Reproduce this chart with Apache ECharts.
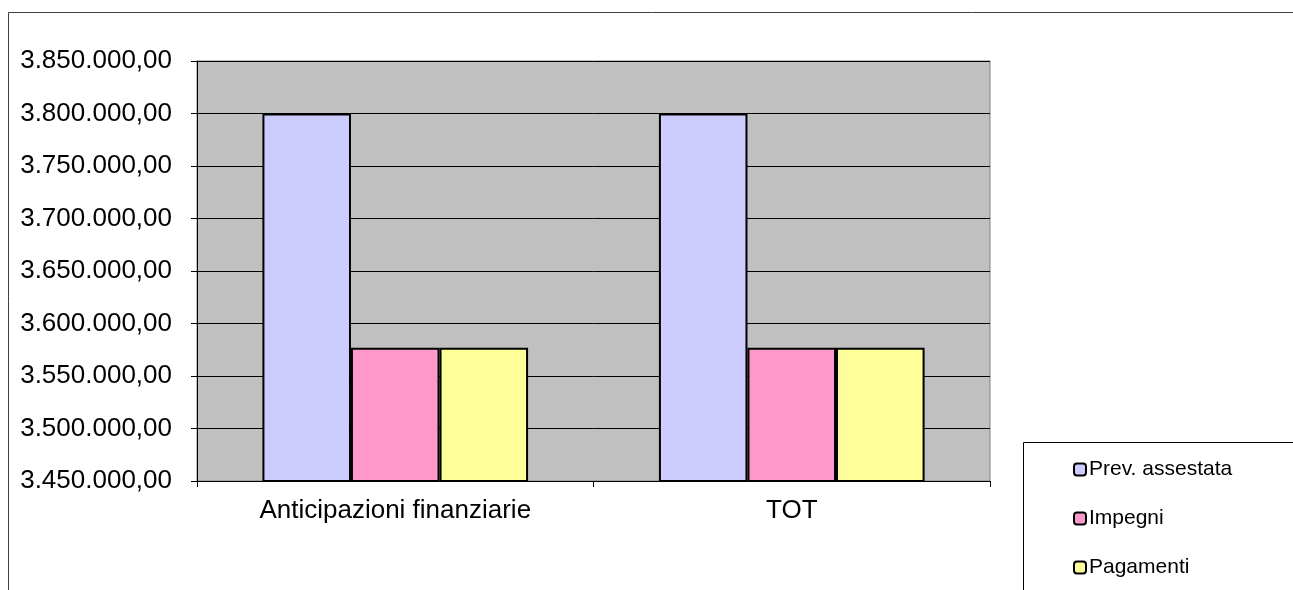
<!DOCTYPE html>
<html>
<head>
<meta charset="utf-8">
<script src="https://cdn.jsdelivr.net/npm/echarts@6/dist/echarts.min.js"></script>
<style>
  html, body { margin: 0; padding: 0; background: #fff; }
  #chart { width: 1293px; height: 590px; }
</style>
</head>
<body>
<div id="chart"></div>
<script>
const categories = ['Anticipazioni finanziarie', 'TOT']
const seriesNames = ['Prev. assestata', 'Impegni', 'Pagamenti']
const prevAssestata = [3800000, 3800000]
const impegni = [3577000, 3577000]
const pagamenti = [3577000, 3577000]
const colors = ['#CCCCFF', '#FF99CC', '#FFFF99']

function fmtIt(v) {
  let parts = v.toFixed(2).split('.')
  let intPart = parts[0].replace(/\B(?=(\d{3})+(?!\d))/g, '.')
  return intPart + ',' + parts[1]
}

let chart = echarts.init(document.getElementById('chart'))

const barStyle = (c) => ({ color: c, borderColor: '#000', borderWidth: 2 })

chart.setOption({
  animation: false,
  textStyle: { fontFamily: 'Liberation Sans, Arial, sans-serif' },
  graphic: [
    {
      type: 'rect',
      shape: { x: 8.5, y: 12.5, width: 1300, height: 600 },
      style: { fill: 'none', stroke: '#404040', lineWidth: 1 },
      z: -10
    },
    {
      type: 'rect',
      shape: { x: 1023.5, y: 442.5, width: 300, height: 200 },
      style: { fill: '#fff', stroke: '#000', lineWidth: 1 },
      z: 0
    }
  ],
  legend: {
    orient: 'vertical',
    left: 1068,
    top: 454,
    itemWidth: 12,
    itemHeight: 12,
    itemGap: 28,
    itemStyle: { borderColor: '#000', borderWidth: 2 },
    textStyle: { fontSize: 21, color: '#000', padding: [0, 0, 0, -2] },
    data: seriesNames,
    z: 5
  },
  grid: {
    left: 197,
    top: 61,
    width: 793,
    height: 420,
    show: true,
    backgroundColor: '#C0C0C0',
    borderColor: '#808080',
    borderWidth: 1
  },
  xAxis: {
    type: 'category',
    data: categories,
    axisLine: { lineStyle: { color: '#000', width: 1 } },
    axisTick: { show: true, length: 6, lineStyle: { color: '#000' } },
    axisLabel: { color: '#000', fontSize: 26, margin: 17 }
  },
  yAxis: {
    type: 'value',
    min: 3450000,
    max: 3850000,
    interval: 50000,
    axisLine: { show: true, lineStyle: { color: '#000', width: 1 } },
    axisTick: { show: true, length: 6, lineStyle: { color: '#000' } },
    splitLine: { lineStyle: { color: '#000', width: 1 } },
    axisLabel: { color: '#000', fontSize: 26, margin: 25, formatter: fmtIt }
  },
  series: [
    {
      name: seriesNames[0],
      type: 'bar',
      data: prevAssestata,
      barGap: '0%',
      barCategoryGap: '33%',
      itemStyle: barStyle(colors[0])
    },
    {
      name: seriesNames[1],
      type: 'bar',
      data: impegni,
      barGap: '0%',
      barCategoryGap: '33%',
      itemStyle: barStyle(colors[1])
    },
    {
      name: seriesNames[2],
      type: 'bar',
      data: pagamenti,
      barGap: '0%',
      barCategoryGap: '33%',
      itemStyle: barStyle(colors[2])
    }
  ]
})
</script>
</body>
</html>
